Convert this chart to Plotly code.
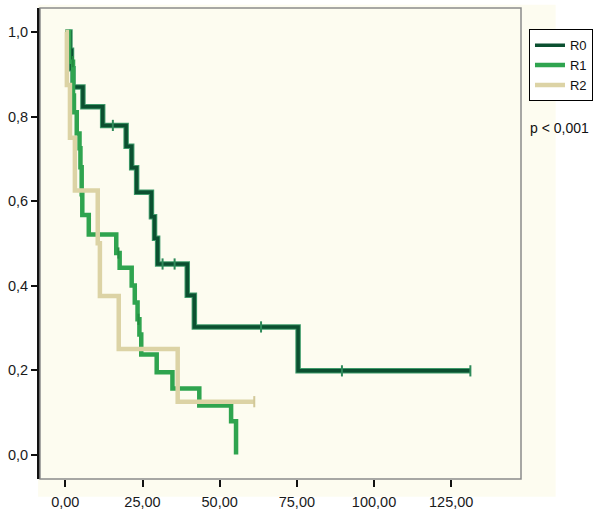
import plotly.graph_objects as go

# ---- data ----
r0_time = [0, 1.5, 2.0, 2.5, 5.7, 12.1, 19.7, 21.5, 23.1, 27.9, 28.9, 29.9, 39.5, 41.8, 75.4, 131.2]
r0_surv = [1.0, 0.957, 0.913, 0.87, 0.823, 0.779, 0.73, 0.679, 0.621, 0.563, 0.512, 0.451, 0.377, 0.302, 0.198, 0.198]
r0_cens = [15.4, 31.5, 35.4, 63.4, 89.6, 131.2]

r1_time = [0, 1.2, 2.5, 2.8, 3.7, 4.6, 4.9, 5.3, 5.5, 7.6, 16.5, 17.6, 21.5, 22.5, 23.4, 24.0, 24.6, 29.6, 34.7, 43.4, 53.7, 55.3]
r1_surv = [1.0, 0.93, 0.85, 0.81, 0.76, 0.725, 0.68, 0.616, 0.567, 0.521, 0.477, 0.442, 0.40, 0.36, 0.32, 0.284, 0.237, 0.195, 0.156, 0.116, 0.079, 0.0]
r1_cens = [2.4, 17.2, 23.7]

r2_time = [0, 0.5, 1.5, 3.1, 10.5, 11.2, 17.3, 36.4, 61.2]
r2_surv = [1.0, 0.875, 0.75, 0.625, 0.5, 0.375, 0.25, 0.125, 0.125]
r2_cens = [61.2]

x_ticks = [0, 25, 50, 75, 100, 125]
x_tick_text = ["0,00", "25,00", "50,00", "75,00", "100,00", "125,00"]
y_ticks = [0.0, 0.2, 0.4, 0.6, 0.8, 1.0]
y_tick_text = ["0,0", "0,2", "0,4", "0,6", "0,8", "1,0"]

groups = ["R0", "R1", "R2"]
p_text = "p < 0,001"


def level_at(times, surv, t):
    val = surv[0]
    for ti, si in zip(times, surv):
        if ti <= t:
            val = si
    return val


FONT = "Liberation Sans, Arial, sans-serif"
fig = go.Figure()

# R0 (dark green with lighter halo)
fig.add_trace(go.Scatter(x=r0_time, y=r0_surv, mode="lines", line=dict(shape="hv", color="#3E9A6A", width=5.5),
                         showlegend=False, hoverinfo="skip"))
fig.add_trace(go.Scatter(x=r0_time, y=r0_surv, mode="lines", name=groups[0],
                         line=dict(shape="hv", color="#0B5030", width=3.5)))
fig.add_trace(go.Scatter(x=r0_cens, y=[level_at(r0_time, r0_surv, t) for t in r0_cens], mode="markers",
                         marker=dict(symbol="line-ns", size=8, line=dict(color="#2E8A5A", width=2)),
                         showlegend=False, hoverinfo="skip"))

# R1
fig.add_trace(go.Scatter(x=r1_time, y=r1_surv, mode="lines", name=groups[1],
                         line=dict(shape="hv", color="#2FA44F", width=4.5)))
fig.add_trace(go.Scatter(x=r1_cens, y=[level_at(r1_time, r1_surv, t) for t in r1_cens], mode="markers",
                         marker=dict(symbol="line-ns", size=8, line=dict(color="#238C40", width=2)),
                         showlegend=False, hoverinfo="skip"))

# R2
fig.add_trace(go.Scatter(x=r2_time, y=r2_surv, mode="lines", name=groups[2],
                         line=dict(shape="hv", color="#DCD3A5", width=4.5)))
fig.add_trace(go.Scatter(x=r2_cens, y=[level_at(r2_time, r2_surv, t) for t in r2_cens], mode="markers",
                         marker=dict(symbol="line-ns", size=8, line=dict(color="#D2C898", width=2)),
                         showlegend=False, hoverinfo="skip"))

cream = "#FDFCF0"
fig.update_layout(
    width=601, height=518,
    margin=dict(l=40, r=78, t=8, b=31),
    paper_bgcolor="white",
    plot_bgcolor=cream,
    font=dict(family=FONT, size=14.5, color="#1a1a1a"),
    showlegend=True,
    legend=dict(x=1.0166, y=0.955, xanchor="left", yanchor="top",
                bgcolor="white", bordercolor="black", borderwidth=1,
                font=dict(family=FONT, size=13, color="#111"),
                itemwidth=30, tracegroupgap=0),
    xaxis=dict(range=[-8.2, 147.6], tickvals=x_ticks, ticktext=x_tick_text,
               ticks="outside", ticklen=7, tickwidth=2, tickcolor="#111", ticklabelstandoff=3,
               showgrid=False, zeroline=False, showline=False),
    yaxis=dict(range=[-0.058, 1.057], tickvals=y_ticks, ticktext=y_tick_text,
               ticks="outside", ticklen=6, tickwidth=2, tickcolor="#111",
               showgrid=False, zeroline=False, showline=True, linecolor="#111", linewidth=3),
    shapes=[
        dict(type="rect", xref="paper", yref="paper", x0=-0.004, x1=1.072, y0=-0.0375, y1=1.007,
             fillcolor=cream, line=dict(width=0), layer="below"),
        dict(type="rect", xref="paper", yref="paper", x0=0, x1=1, y0=0, y1=1,
             line=dict(color="#8a8a8a", width=1.5), layer="above"),
    ],
    annotations=[
        dict(text=p_text, xref="paper", yref="paper", x=1.0145, y=0.745, xanchor="left", yanchor="middle",
             showarrow=False, font=dict(family=FONT, size=14, color="#111")),
    ],
)

fig.write_html("out.html")
